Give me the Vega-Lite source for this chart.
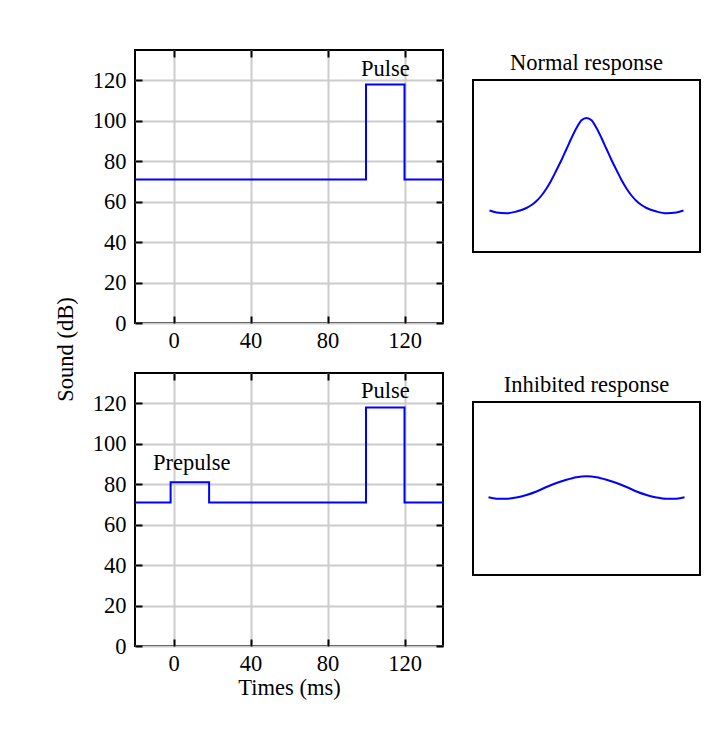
{
  "$schema": "https://vega.github.io/schema/vega-lite/v6.json",
  "padding": {"left": 53, "top": 48, "right": 0, "bottom": 0},
  "background": "white",
  "config": {
    "font": "Liberation Serif",
    "view": {"stroke": "black", "strokeWidth": 2},
    "axis": {
      "labelFont": "Liberation Serif", "labelFontSize": 22.5, "labelColor": "black",
      "titleFont": "Liberation Serif", "titleFontSize": 22.5, "titleColor": "black", "titleFontWeight": "normal",
      "tickColor": "black", "tickWidth": 2, "tickSize": -7,
      "gridColor": "#cccccc", "gridWidth": 2, "domain": false
    },
    "title": {"font": "Liberation Serif", "fontSize": 22.5, "fontWeight": "normal", "color": "black", "offset": 6},
    "text": {"font": "Liberation Serif", "fontSize": 22.5, "color": "black"}
  },
  "hconcat": [
    {
      "bounds": "flush",
      "spacing": 50,
      "vconcat": [
        {
          "width": 308, "height": 273,
          "data": {"values": [
            {"t": -20, "db": 71}, {"t": 100, "db": 118}, {"t": 120, "db": 71}, {"t": 140, "db": 71}
          ]},
          "layer": [
            {
              "mark": {"type": "line", "interpolate": "step-after", "color": "#0000ff", "strokeWidth": 2},
              "encoding": {
                "x": {"field": "t", "type": "quantitative", "scale": {"domain": [-20, 140], "nice": false, "zero": false},
                      "axis": {"orient": "bottom", "values": [0, 40, 80, 120], "title": null, "labelPadding": 13}},
                "y": {"field": "db", "type": "quantitative", "scale": {"domain": [0, 135], "nice": false, "zero": false},
                      "axis": {"orient": "left", "values": [0, 20, 40, 60, 80, 100, 120], "labelPadding": 16,
                               "title": "Sound (dB)", "titleAngle": -90, "titleAlign": "center", "titleBaseline": "bottom",
                               "titleX": -58, "titleY": 299}}
              }
            },
            {
              "data": {"values": [{"t": 110, "db": 122, "label": "Pulse"}]},
              "mark": {"type": "text", "baseline": "alphabetic", "align": "center"},
              "encoding": {
                "x": {"field": "t", "type": "quantitative",
                      "axis": {"orient": "top", "values": [0, 40, 80, 120], "labels": false, "grid": false, "title": null}},
                "y": {"field": "db", "type": "quantitative",
                      "axis": {"orient": "right", "values": [0, 20, 40, 60, 80, 100, 120], "labels": false, "grid": false, "title": null}},
                "text": {"field": "label"}
              }
            }
          ],
          "resolve": {"axis": {"x": "independent", "y": "independent"}}
        },
        {
          "width": 308, "height": 273,
          "data": {"values": [
            {"t": -20, "db": 71}, {"t": -1.5, "db": 81}, {"t": 18.5, "db": 71}, {"t": 100, "db": 118}, {"t": 120, "db": 71}, {"t": 140, "db": 71}
          ]},
          "layer": [
            {
              "mark": {"type": "line", "interpolate": "step-after", "color": "#0000ff", "strokeWidth": 2},
              "encoding": {
                "x": {"field": "t", "type": "quantitative", "scale": {"domain": [-20, 140], "nice": false, "zero": false},
                      "axis": {"orient": "bottom", "values": [0, 40, 80, 120], "title": "Times (ms)", "labelPadding": 13, "titlePadding": 2}},
                "y": {"field": "db", "type": "quantitative", "scale": {"domain": [0, 135], "nice": false, "zero": false},
                      "axis": {"orient": "left", "values": [0, 20, 40, 60, 80, 100, 120], "labelPadding": 16, "title": null}}
              }
            },
            {
              "data": {"values": [{"t": 110, "db": 122.5, "label": "Pulse"}, {"t": 9.5, "db": 87, "label": "Prepulse"}]},
              "mark": {"type": "text", "baseline": "alphabetic", "align": "center"},
              "encoding": {
                "x": {"field": "t", "type": "quantitative",
                      "axis": {"orient": "top", "values": [0, 40, 80, 120], "labels": false, "grid": false, "title": null}},
                "y": {"field": "db", "type": "quantitative",
                      "axis": {"orient": "right", "values": [0, 20, 40, 60, 80, 100, 120], "labels": false, "grid": false, "title": null}},
                "text": {"field": "label"}
              }
            }
          ],
          "resolve": {"axis": {"x": "independent", "y": "independent"}}
        }
      ]
    },
    {
      "bounds": "flush",
      "spacing": 0,
      "vconcat": [
        {
          "width": 227, "height": 30,
          "view": {"stroke": null},
          "data": {"values": []},
          "mark": "point"
        },
        {
          "spacing": 119,
          "vconcat": [
            {
              "title": "Normal response",
              "width": 227, "height": 172,
              "data": {"values": [
                {"t": -97, "r": 41.5}, {"t": -90, "r": 39.5}, {"t": -80, "r": 38.7}, {"t": -70, "r": 40.5},
                {"t": -60, "r": 44}, {"t": -55, "r": 47}, {"t": -50, "r": 51}, {"t": -45, "r": 56.5},
                {"t": -40, "r": 63.5}, {"t": -35, "r": 72}, {"t": -30, "r": 82}, {"t": -25, "r": 92},
                {"t": -20, "r": 103}, {"t": -15, "r": 114}, {"t": -10, "r": 124}, {"t": -5, "r": 131.7},
                {"t": 0, "r": 134},
                {"t": 5, "r": 131.7}, {"t": 10, "r": 124}, {"t": 15, "r": 114}, {"t": 20, "r": 103},
                {"t": 25, "r": 92}, {"t": 30, "r": 82}, {"t": 35, "r": 72}, {"t": 40, "r": 63.5},
                {"t": 45, "r": 56.5}, {"t": 50, "r": 51}, {"t": 55, "r": 47}, {"t": 60, "r": 44},
                {"t": 70, "r": 40.5}, {"t": 80, "r": 38.7}, {"t": 90, "r": 39.5}, {"t": 97, "r": 41.5}
              ]},
              "mark": {"type": "line", "interpolate": "monotone", "color": "#0000ff", "strokeWidth": 2},
              "encoding": {
                "x": {"field": "t", "type": "quantitative", "scale": {"domain": [-113.5, 113.5], "nice": false, "zero": false}, "axis": null},
                "y": {"field": "r", "type": "quantitative", "scale": {"domain": [0, 172], "nice": false, "zero": false}, "axis": null}
              }
            },
            {
              "title": "Inhibited response",
              "width": 227, "height": 173,
              "data": {"values": [
                {"t": -98, "r": 77.8}, {"t": -90, "r": 76.3}, {"t": -80, "r": 76.2}, {"t": -70, "r": 77.5},
                {"t": -60, "r": 80}, {"t": -50, "r": 83.5}, {"t": -40, "r": 88}, {"t": -30, "r": 92},
                {"t": -20, "r": 95.3}, {"t": -10, "r": 97.8}, {"t": 0, "r": 98.7},
                {"t": 10, "r": 97.8}, {"t": 20, "r": 95.3}, {"t": 30, "r": 92}, {"t": 40, "r": 88},
                {"t": 50, "r": 83.5}, {"t": 60, "r": 80}, {"t": 70, "r": 77.5}, {"t": 80, "r": 76.2},
                {"t": 90, "r": 76.3}, {"t": 98, "r": 77.8}
              ]},
              "mark": {"type": "line", "interpolate": "monotone", "color": "#0000ff", "strokeWidth": 2},
              "encoding": {
                "x": {"field": "t", "type": "quantitative", "scale": {"domain": [-113.5, 113.5], "nice": false, "zero": false}, "axis": null},
                "y": {"field": "r", "type": "quantitative", "scale": {"domain": [0, 173], "nice": false, "zero": false}, "axis": null}
              }
            }
          ]
        }
      ]
    }
  ],
  "spacing": 24
}
